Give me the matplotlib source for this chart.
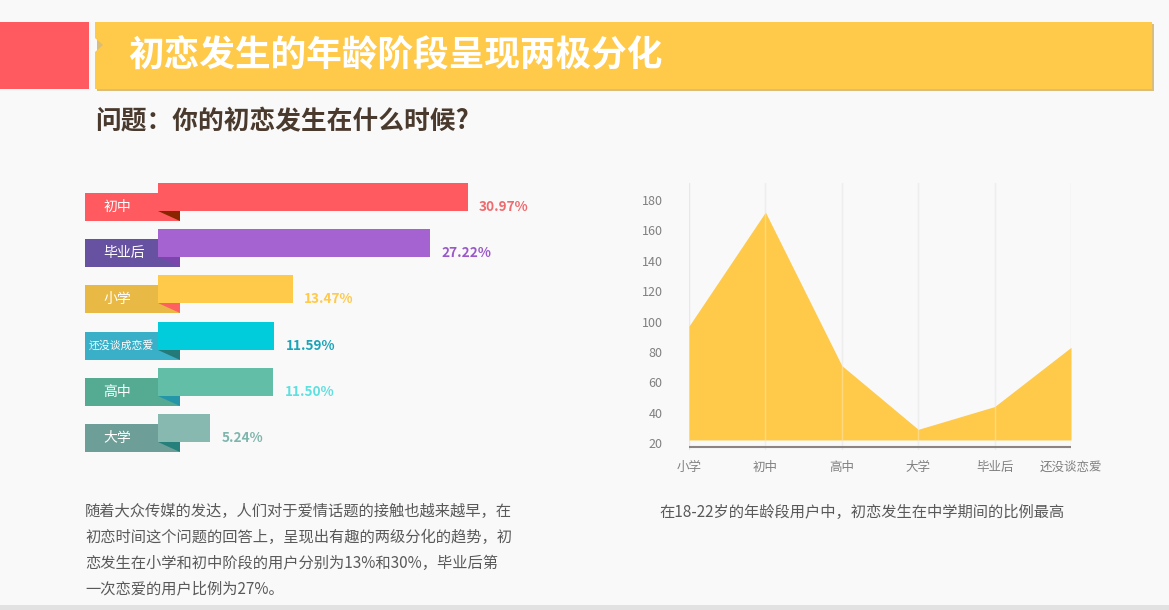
import matplotlib
matplotlib.use("Agg")
import matplotlib.pyplot as plt
from matplotlib.patches import Rectangle, Polygon

plt.rcParams['font.family'] = ['Noto Sans CJK SC', 'DejaVu Sans']

# ---------------- data ----------------
bar_labels = ['初中', '毕业后', '小学', '还没谈成恋爱', '高中', '大学']
bar_values = [30.97, 27.22, 13.47, 11.59, 11.50, 5.24]
bar_colors = ['#ff5a5f', '#a463d1', '#ffc94a', '#00ccdc', '#62bea6', '#88b9b0']
tab_colors = ['#ff5a5f', '#6752a2', '#e9b945', '#3aafc8', '#55aa92', '#6e9e98']
fold_colors = ['#8b2500', '#7c45ad', '#ff6060', '#247a78', '#2596a8', '#257f7a']
value_colors = ['#ee6a6e', '#9a58c8', '#ffc94a', '#1ba3b8', '#5ee0e0', '#7fb5ad']

area_categories = ['小学', '初中', '高中', '大学', '毕业后', '还没谈恋爱']
area_values = [97, 172, 71, 29, 44, 83]
area_yticks = [20, 40, 60, 80, 100, 120, 140, 160, 180]

title = '初恋发生的年龄阶段呈现两极分化'
subtitle = '问题：你的初恋发生在什么时候?'
left_text = ['随着大众传媒的发达，人们对于爱情话题的接触也越来越早，在',
             '初恋时间这个问题的回答上，呈现出有趣的两级分化的趋势，初',
             '恋发生在小学和初中阶段的用户分别为13%和30%，毕业后第',
             '一次恋爱的用户比例为27%。']
right_text = '在18-22岁的年龄段用户中，初恋发生在中学期间的比例最高'

W, H = 1169, 610
fig = plt.figure(figsize=(W / 100, H / 100), dpi=100, facecolor='#f9f9f9')

# ---------------- background / header (pixel coords) ----------------
bg = fig.add_axes([0, 0, 1, 1], zorder=0)
bg.set_xlim(0, W)
bg.set_ylim(H, 0)
bg.axis('off')
bg.set_facecolor('#f9f9f9')

bg.add_patch(Rectangle((0, 605), W, 5, color='#e2e2e2', lw=0))
bg.add_patch(Rectangle((0, 22), 89, 67, color='#ff5a5f', lw=0))
# banner shadow
bg.add_patch(Rectangle((97, 24), 1057, 67, color='#d9bd78', lw=0))
bg.add_patch(Polygon([(95, 22), (1152, 22), (1152, 89), (95, 89), (95, 52),
                      (103, 45), (95, 38)], closed=True, color='#ffc94a', lw=0))
bg.text(128, 56, title, color='white', fontsize=25.7, fontweight='bold',
        va='center', ha='left')
bg.text(95, 122, subtitle, color='#4a3a2e', fontsize=18.5, fontweight='bold',
        va='center', ha='left')

for i, line in enumerate(left_text):
    bg.text(85, 511 + i * 26, line, color='#595959', fontsize=11,
            va='center', ha='left')
bg.text(659, 512, right_text, color='#595959', fontsize=11, va='center', ha='left')

# ---------------- ribbon bar chart ----------------
ax = fig.add_axes([85 / W, (H - 460) / H, 473 / W, 290 / H], zorder=2)
ax.set_xlim(-7.3, 40.0)
ax.set_ylim(5.693, -0.584)
ax.axis('off')
bh = 0.606
off = 0.216
tab_left, tab_right = -7.3, 2.2
for i, (lab, v) in enumerate(zip(bar_labels, bar_values)):
    t_top = i - bh / 2 + off
    ax.add_patch(Rectangle((tab_left, t_top), tab_right - tab_left, bh,
                           color=tab_colors[i], lw=0, zorder=1))
    ax.add_patch(Polygon([(0, i + bh / 2), (tab_right, i + bh / 2),
                          (tab_right, t_top + bh)], closed=True,
                         color=fold_colors[i], lw=0, zorder=2))
    ax.barh(i, v, height=bh, left=0, color=bar_colors[i], lw=0, zorder=3)
    fs = 7.8 if len(lab) > 3 else 10
    lx = -6.9 if len(lab) > 3 else -5.45
    ax.text(lx, i + off, lab, color='white', fontsize=fs, va='center',
            ha='left', zorder=4)
    ax.text(v + 1.15, i + off, f'{v:.2f}%', color=value_colors[i],
            fontsize=9.8, fontweight='bold', va='center', ha='left', zorder=4)

# ---------------- area chart ----------------
ax2 = fig.add_axes([689 / W, (H - 450) / H, (1071 - 689) / W, 267 / H], zorder=2)
ax2.set_facecolor('none')
x = list(range(len(area_categories)))
ax2.set_xlim(0, len(x) - 1)
ax2.set_ylim(15.4, 191.2)
for xi in x:
    ax2.axvline(xi, color='#e8e8e8', lw=1, zorder=0)
ax2.fill_between(x, 22, area_values, color='#ffc94a', lw=0, zorder=1)
for xi in x[1:-1]:
    ax2.axvline(xi, color='white', lw=1, alpha=0.3, zorder=2)
ax2.axhline(17.4, color='#8c8480', lw=1.5, zorder=3)
ax2.set_xticks(x)
ax2.set_xticklabels(area_categories)
ax2.set_yticks(area_yticks)
ax2.tick_params(axis='both', length=0, colors='#808080', labelsize=9)
ax2.tick_params(axis='y', pad=19)
ax2.tick_params(axis='x', pad=8)
for s in ax2.spines.values():
    s.set_visible(False)

fig.savefig('out.png', dpi=100, facecolor=fig.get_facecolor())
